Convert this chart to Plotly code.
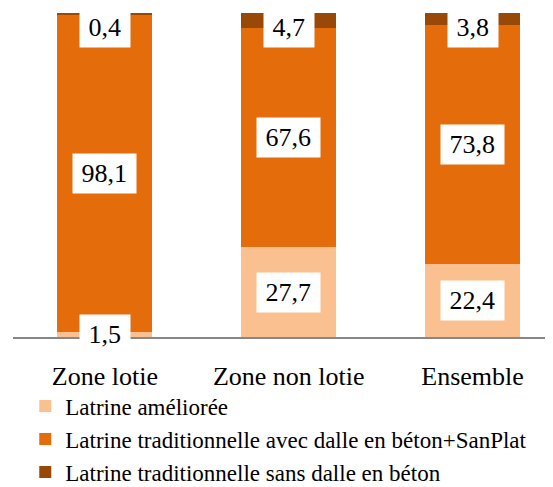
import plotly.graph_objects as go

# categories and series (percentages)
zones = ["Zone lotie", "Zone non lotie", "Ensemble"]
amelioree = [1.5, 27.7, 22.4]
trad_dalle = [98.1, 67.6, 73.8]
trad_sans = [0.4, 4.7, 3.8]

series = [
    ("Latrine améliorée", amelioree, "#FAC090"),
    ("Latrine traditionnelle avec dalle en béton+SanPlat", trad_dalle, "#E46C0A"),
    ("Latrine traditionnelle sans dalle en béton", trad_sans, "#984807"),
]

FONT = "Liberation Serif, Times New Roman, serif"

fig = go.Figure()
for name, vals, color in series:
    fig.add_trace(go.Bar(x=zones, y=vals, name=name, marker=dict(color=color, line=dict(width=0))))

# value labels in white boxes
def fmt(v):
    return "\u00a0" + f"{v:.1f}".replace(".", ",") + "\u00a0"

annotations = []
for i, z in enumerate(zones):
    base = 0
    for k, (name, vals, color) in enumerate(series):
        v = vals[i]
        if k == len(series) - 1:
            # top segment label sits just under the top of the bar
            annotations.append(dict(x=i, y=base + v, yanchor="top", yshift=6, text=fmt(v)))
        else:
            annotations.append(dict(x=i, y=base + v / 2, yanchor="middle", text=fmt(v)))
        base += v
for a in annotations:
    a.update(xref="x", yref="y", showarrow=False, bgcolor="white", borderpad=2, height=35,
             font=dict(family=FONT, size=26, color="black"))

# page body has an 8px margin, so the figure is 8px smaller than the window
fig.update_layout(
    width=545, height=479,
    margin=dict(l=4.5, r=0, t=5, b=150, autoexpand=False),
    paper_bgcolor="white", plot_bgcolor="white",
    barmode="stack", bargap=0.484,
    font=dict(family=FONT, color="black"),
    annotations=annotations,
    xaxis=dict(type="category", range=[-0.5, 2.4375], showline=True, linecolor="#878787", linewidth=2,
               ticks="", showgrid=False, zeroline=False, ticklabelstandoff=15, automargin=False,
               tickfont=dict(family=FONT, size=26, color="black")),
    yaxis=dict(range=[0, 100], visible=False, showgrid=False, zeroline=False, automargin=False),
    legend=dict(x=0.0227, y=-0.147, xanchor="left", yanchor="top", traceorder="normal",
                font=dict(family=FONT, size=23, color="black"),
                bgcolor="rgba(0,0,0,0)", tracegroupgap=0),
    showlegend=True,
)

fig.write_html("out.html")
